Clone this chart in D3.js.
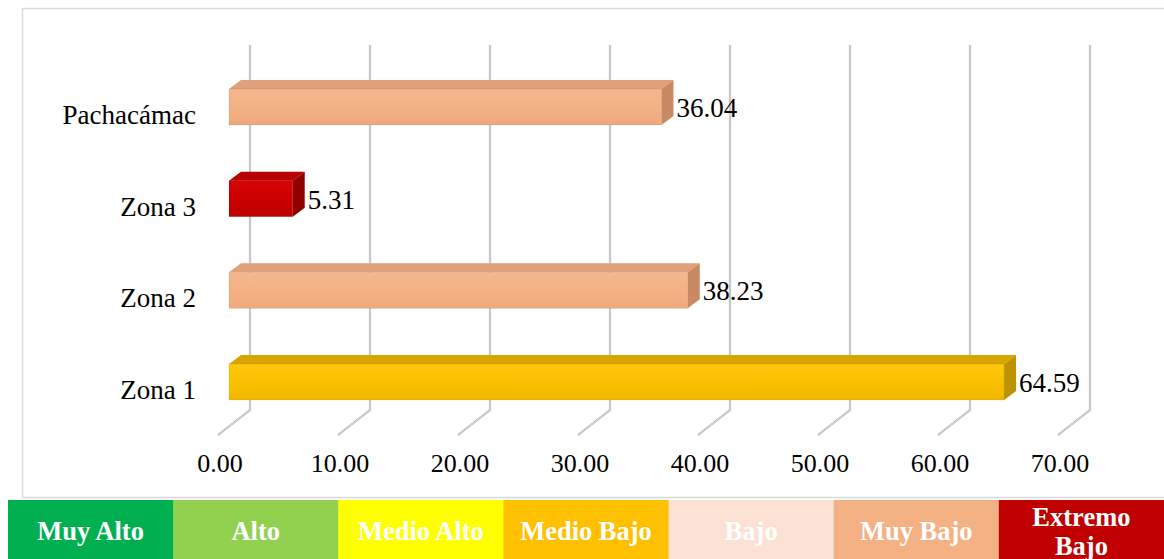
<!DOCTYPE html>
<html><head><meta charset="utf-8">
<script src="https://cdn.jsdelivr.net/npm/d3@7"></script>
<style>html,body{margin:0;padding:0;background:#fff;overflow:hidden}svg{display:block}</style>
</head><body>
<svg id="c" width="1164" height="559"></svg>
<script>
const categories = ["Pachacámac", "Zona 3", "Zona 2", "Zona 1"];
const values = [36.04, 5.31, 38.23, 64.59];
const barLevels = ["Muy Bajo", "Extremo Bajo", "Muy Bajo", "Medio Bajo"];
const ticks = [0, 10, 20, 30, 40, 50, 60, 70];
const legendLabels = ["Muy Alto", "Alto", "Medio Alto", "Medio Bajo", "Bajo", "Muy Bajo", "Extremo Bajo"];
const legendColors = ["#00B050", "#92D050", "#FFFF00", "#FFC000", "#FBE2D5", "#F4B183", "#C00000"];

const shades = {
  "Muy Bajo": {front: ["#F6B78E", "#F4B183", "#EEA97D"], top: "#E0A07A", side: "#C98962"},
  "Extremo Bajo": {front: ["#D40404", "#CC0000", "#BC0000"], top: "#B80000", side: "#900000"},
  "Medio Bajo": {front: ["#FFC60E", "#FBC000", "#F2B800"], top: "#D9A600", side: "#BC9400"}
};

const svg = d3.select("#c");
const font = "'Liberation Serif','Times New Roman',serif";

// chart border
svg.append("rect").attr("x", 22.5).attr("y", 8.5).attr("width", 1160).attr("height", 489)
  .attr("fill", "#fff").attr("stroke", "#D9D9D9").attr("stroke-width", 1.5);

const x = d3.scaleLinear().domain([0, 70]).range([250, 1090]);
const y = d3.scalePoint().domain(categories).range([107, 382]);
const FRONT_DX = -21, DEPTH_X = 12, DEPTH_Y = 9, BAR_H = 36;
const FLOOR_DX = -32, FLOOR_DY = 25;
const gridTop = 45, gridBottom = 410;

// gridlines
const g = svg.append("g");
ticks.forEach(t => {
  const xx = x(t);
  const d = `M${xx},${gridTop}L${xx},${gridBottom}L${xx + FLOOR_DX},${gridBottom + FLOOR_DY}`;
  g.append("path").attr("d", d).attr("fill", "none").attr("stroke", "#B5B5B5").attr("stroke-width", 2.2);
  g.append("path").attr("d", d).attr("fill", "none").attr("stroke", "#EDEDED").attr("stroke-width", 0.7);
});

// tick labels
svg.append("g").selectAll("text").data(ticks).join("text")
  .attr("x", d => x(d) + FLOOR_DX + 2).attr("y", 472)
  .attr("text-anchor", "middle").attr("font-family", font).attr("font-size", 26)
  .attr("fill", "#000").text(d => d.toFixed(2));

// gradients
const defs = svg.append("defs");
Object.entries(shades).forEach(([k, s], i) => {
  const lg = defs.append("linearGradient").attr("id", "gf" + i).attr("x1", 0).attr("y1", 0).attr("x2", 0).attr("y2", 1);
  lg.append("stop").attr("offset", "0%").attr("stop-color", s.front[0]);
  lg.append("stop").attr("offset", "50%").attr("stop-color", s.front[1]);
  lg.append("stop").attr("offset", "100%").attr("stop-color", s.front[2]);
  s.id = "gf" + i;
});

// bars
const bars = svg.append("g");
categories.forEach((c, i) => {
  const s = shades[barLevels[i]];
  const x0 = x(0) + FRONT_DX;
  const x1 = x(values[i]) + FRONT_DX;
  const top = y(c) - BAR_H / 2;
  bars.append("polygon")
    .attr("points", [[x0, top], [x0 + DEPTH_X, top - DEPTH_Y], [x1 + DEPTH_X, top - DEPTH_Y], [x1, top]].join(" "))
    .attr("fill", s.top);
  bars.append("polygon")
    .attr("points", [[x1, top], [x1 + DEPTH_X, top - DEPTH_Y], [x1 + DEPTH_X, top + BAR_H - DEPTH_Y], [x1, top + BAR_H]].join(" "))
    .attr("fill", s.side);
  bars.append("rect").attr("x", x0).attr("y", top).attr("width", x1 - x0).attr("height", BAR_H)
    .attr("fill", `url(#${s.id})`).attr("stroke", "rgba(0,0,0,0.12)").attr("stroke-width", 0.6);
  bars.append("text").attr("x", x1 + DEPTH_X + 3).attr("y", y(c) + 10)
    .attr("font-family", font).attr("font-size", 27).attr("fill", "#000")
    .text(values[i].toFixed(2));
});

// category labels
svg.append("g").selectAll("text").data(categories).join("text")
  .attr("x", 196).attr("y", d => y(d) + 17).attr("text-anchor", "end")
  .attr("font-family", font).attr("font-size", 27).attr("fill", "#000").text(d => d);

// legend
const lx = d3.scaleBand().domain(legendLabels).range([8, 1164]);
const lg = svg.append("g");
legendLabels.forEach((l, i) => {
  lg.append("rect").attr("x", lx(l)).attr("y", 500).attr("width", lx.bandwidth() + 0.5).attr("height", 59)
    .attr("fill", legendColors[i]);
  const parts = l === "Extremo Bajo" ? ["Extremo", "Bajo"] : [l];
  parts.forEach((p, j) => {
    lg.append("text").attr("x", lx(l) + lx.bandwidth() / 2)
      .attr("y", parts.length > 1 ? 526 + j * 29 : 540)
      .attr("text-anchor", "middle").attr("font-family", font).attr("font-weight", "bold")
      .attr("font-size", 26.5).attr("fill", "#fff").text(p);
  });
});
</script>
</body></html>
